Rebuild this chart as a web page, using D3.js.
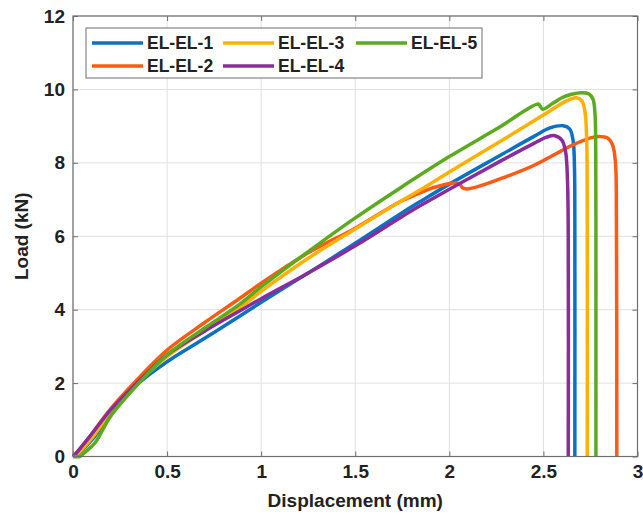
<!DOCTYPE html>
<html>
<head>
<meta charset="utf-8">
<script src="https://cdn.jsdelivr.net/npm/d3@7"></script>
<style>
  html, body { margin: 0; padding: 0; background: #fff; }
  svg { display: block; font-family: "Liberation Sans", Arial, sans-serif; }
</style>
</head>
<body>
<svg id="chart" width="643" height="522"></svg>
<script>
// Load–displacement curves for five EL-EL specimens: [displacement mm, load kN]
const seriesNames = ["EL-EL-1", "EL-EL-2", "EL-EL-3", "EL-EL-4", "EL-EL-5"];
const seriesColors = ["#0a72c4", "#ff5a14", "#ffb000", "#8a2c9e", "#5bab1f"];

const elEl1 = [[0,0],[0.02,0.04],[0.1,0.45],[0.2,1.15],[0.35,2.0],[0.5,2.58],[0.7,3.22],[0.887,3.83],
  [1.0,4.2],[1.25,5.0],[1.5,5.81],[1.737,6.6],[1.844,6.94],[2.0,7.42],[2.269,8.2],[2.45,8.72],
  [2.535,8.95],[2.605,9.01],[2.64,8.92],[2.658,8.6],[2.665,7.9],[2.667,6.5],[2.667,0]];

const elEl2 = [[0,0],[0.01,0.05],[0.09,0.55],[0.2,1.3],[0.338,2.08],[0.5,2.9],[0.7,3.65],[0.887,4.31],
  [1.0,4.72],[1.25,5.55],[1.5,6.22],[1.737,6.94],[1.79,7.06],[1.913,7.32],[2.03,7.45],[2.056,7.42],
  [2.07,7.32],[2.092,7.29],[2.18,7.4],[2.3,7.62],[2.445,7.92],[2.657,8.49],[2.75,8.68],[2.791,8.72],
  [2.84,8.68],[2.868,8.48],[2.883,8.0],[2.888,6.5],[2.89,0]];

const elEl3 = [[0,0],[0.02,0.05],[0.1,0.5],[0.2,1.2],[0.35,2.03],[0.5,2.72],[0.7,3.42],[0.887,4.05],
  [1.0,4.5],[1.25,5.4],[1.5,6.2],[1.737,6.94],[1.844,7.26],[2.0,7.75],[2.25,8.52],[2.5,9.3],
  [2.623,9.69],[2.676,9.77],[2.705,9.68],[2.722,9.35],[2.73,8.6],[2.733,6.5],[2.733,0]];

const elEl4 = [[0,0],[0.01,0.05],[0.09,0.55],[0.2,1.27],[0.35,2.05],[0.5,2.77],[0.7,3.42],[0.887,3.97],
  [1.0,4.3],[1.25,5.0],[1.5,5.74],[1.737,6.5],[1.844,6.83],[2.0,7.28],[2.269,8.04],[2.45,8.53],
  [2.517,8.7],[2.561,8.74],[2.598,8.62],[2.618,8.3],[2.628,7.5],[2.632,6.0],[2.632,0]];

const elEl5 = [[0,0],[0.035,0],[0.06,0.1],[0.117,0.37],[0.2,1.1],[0.35,2.0],[0.5,2.77],[0.7,3.5],
  [0.887,4.15],[1.0,4.62],[1.25,5.58],[1.5,6.5],[1.737,7.31],[2.0,8.17],[2.25,8.92],[2.472,9.6],
  [2.482,9.55],[2.496,9.46],[2.55,9.62],[2.6,9.78],[2.65,9.87],[2.703,9.91],[2.74,9.88],
  [2.763,9.74],[2.774,9.35],[2.778,8.4],[2.779,6.5],[2.779,0]];

const seriesData = [elEl1, elEl2, elEl3, elEl4, elEl5];

const xTicks = [0, 0.5, 1, 1.5, 2, 2.5, 3];
const xTickLabels = ["0", "0.5", "1", "1.5", "2", "2.5", "3"];
const yTicks = [0, 2, 4, 6, 8, 10, 12];
const yTickLabels = ["0", "2", "4", "6", "8", "10", "12"];

const xTitle = "Displacement (mm)";
const yTitle = "Load (kN)";

// Plot geometry
const W = 643, H = 522;
const margin = { left: 73, right: 5.5, top: 16, bottom: 65.5 };
const x0 = margin.left, x1 = W - margin.right;
const y0 = H - margin.bottom, y1 = margin.top;

const svg = d3.select("#chart");
const x = d3.scaleLinear().domain([0, 3]).range([x0, x1]);
const y = d3.scaleLinear().domain([0, 12]).range([y0, y1]);

const textColor = "#222";
const boxColor = "#6e6e6e";

// Grid lines
const grid = svg.append("g");
grid.selectAll(".gx").data(xTicks).join("line")
  .attr("x1", d => x(d)).attr("x2", d => x(d))
  .attr("y1", y0).attr("y2", y1)
  .attr("stroke", "#e0e0e0").attr("stroke-width", 1);
grid.selectAll(".gy").data(yTicks).join("line")
  .attr("y1", d => y(d)).attr("y2", d => y(d))
  .attr("x1", x0).attr("x2", x1)
  .attr("stroke", "#e0e0e0").attr("stroke-width", 1);

// Axes with inward ticks on all four sides
const tickFmtX = d => xTickLabels[xTicks.indexOf(d)];
const tickFmtY = d => yTickLabels[yTicks.indexOf(d)];

function styleAxis(g, showText) {
  g.select(".domain").remove();
  g.selectAll(".tick line").attr("stroke", boxColor).attr("stroke-width", 1);
  g.selectAll(".tick text")
    .attr("fill", textColor)
    .style("font-size", "19px")
    .style("font-weight", "bold")
    .style("font-family", "'Liberation Sans', Arial, sans-serif");
  if (!showText) g.selectAll(".tick text").remove();
}

svg.append("g").attr("transform", `translate(0,${y0})`)
  .call(d3.axisBottom(x).tickValues(xTicks).tickFormat(tickFmtX).tickSizeInner(-5).tickSizeOuter(0).tickPadding(8))
  .call(g => styleAxis(g, true));
svg.append("g").attr("transform", `translate(0,${y1})`)
  .call(d3.axisTop(x).tickValues(xTicks).tickSizeInner(-5).tickSizeOuter(0))
  .call(g => styleAxis(g, false));
svg.append("g").attr("transform", `translate(${x0},0)`)
  .call(d3.axisLeft(y).tickValues(yTicks).tickFormat(tickFmtY).tickSizeInner(-5).tickSizeOuter(0).tickPadding(8))
  .call(g => styleAxis(g, true));
svg.append("g").attr("transform", `translate(${x1},0)`)
  .call(d3.axisRight(y).tickValues(yTicks).tickSizeInner(-5).tickSizeOuter(0))
  .call(g => styleAxis(g, false));

// Curves
const line = d3.line()
  .x(d => x(d[0])).y(d => y(d[1]))
  .curve(d3.curveCatmullRom.alpha(0.5));

svg.append("g").selectAll("path").data(seriesData).join("path")
  .attr("d", line)
  .attr("fill", "none")
  .attr("stroke", (d, i) => seriesColors[i])
  .attr("stroke-width", 3.5)
  .attr("stroke-linejoin", "round")
  .attr("stroke-linecap", "butt");

// Axes box
svg.append("rect")
  .attr("x", x0).attr("y", y1)
  .attr("width", x1 - x0).attr("height", y0 - y1)
  .attr("fill", "none").attr("stroke", boxColor).attr("stroke-width", 1.2);

// Axis titles
svg.append("text")
  .attr("x", (x0 + x1) / 2).attr("y", 507)
  .attr("text-anchor", "middle")
  .attr("fill", textColor)
  .style("font-size", "19px").style("font-weight", "bold")
  .text(xTitle);

svg.append("text")
  .attr("transform", `translate(28,${(y0 + y1) / 2}) rotate(-90)`)
  .attr("text-anchor", "middle")
  .attr("fill", textColor)
  .style("font-size", "19px").style("font-weight", "bold")
  .text(yTitle);

// Legend (3 columns, 2 rows, filled column-wise)
const legend = svg.append("g");
legend.append("rect")
  .attr("x", 86).attr("y", 28).attr("width", 396).attr("height", 50)
  .attr("fill", "#fff").attr("stroke", boxColor).attr("stroke-width", 1);

const colX = [92, 223, 356];
const rowY = [43, 66];
seriesNames.forEach((name, i) => {
  const col = Math.floor(i / 2), row = i % 2;
  const lx = colX[col], ly = rowY[row];
  legend.append("line")
    .attr("x1", lx).attr("x2", lx + 51)
    .attr("y1", ly).attr("y2", ly)
    .attr("stroke", seriesColors[i]).attr("stroke-width", 3.5);
  legend.append("text")
    .attr("x", lx + 55).attr("y", ly)
    .attr("dy", "0.36em")
    .attr("fill", textColor)
    .style("font-size", "17.5px").style("font-weight", "bold")
    .text(name);
});
</script>
</body>
</html>
